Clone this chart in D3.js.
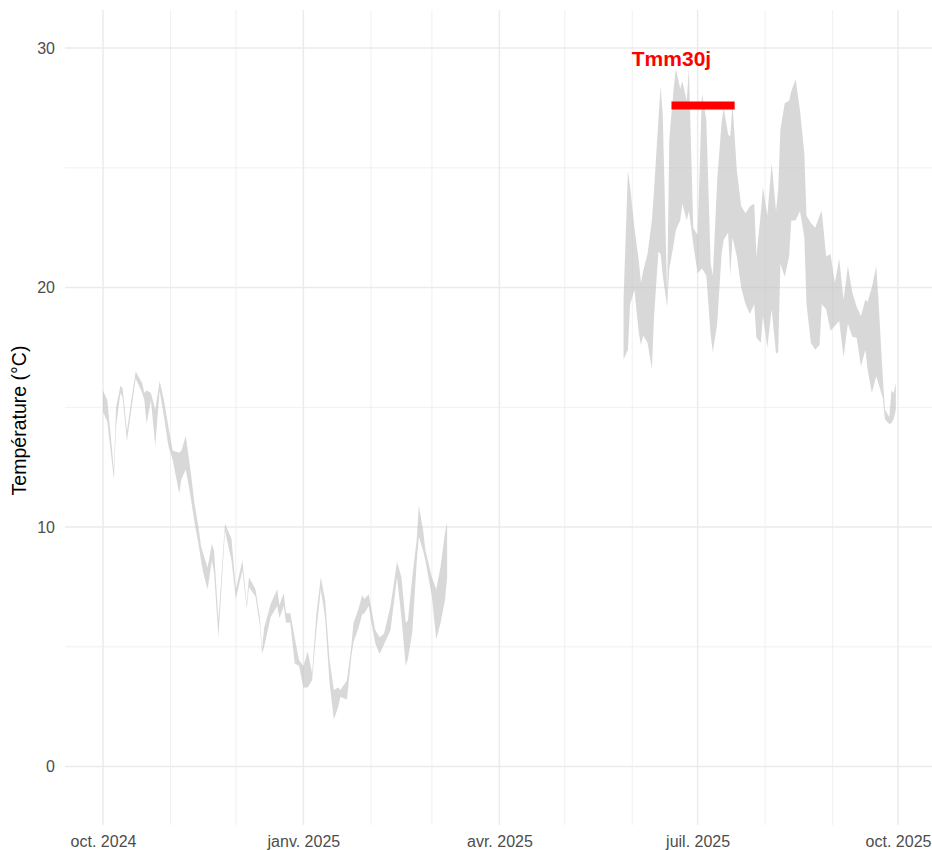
<!DOCTYPE html>
<html>
<head>
<meta charset="utf-8">
<script src="https://cdn.jsdelivr.net/npm/d3@7"></script>
<style>
  body { margin: 0; background: #ffffff; }
  svg { display: block; }
  text { font-family: "Liberation Sans", Arial, Helvetica, sans-serif; }
</style>
</head>
<body>
<svg id="chart" width="932" height="850"></svg>
<script>
// Daily temperature band (upper / lower bound, °C), first recording period
const autumnWinterDates = [
  "2024-10-01","2024-10-03","2024-10-06","2024-10-07","2024-10-09","2024-10-10","2024-10-12","2024-10-14",
  "2024-10-16","2024-10-19","2024-10-20","2024-10-21","2024-10-23","2024-10-25","2024-10-27","2024-10-29",
  "2024-10-31","2024-11-02","2024-11-05","2024-11-06","2024-11-08","2024-11-10","2024-11-12","2024-11-14",
  "2024-11-15","2024-11-16","2024-11-18","2024-11-20","2024-11-21","2024-11-23","2024-11-26","2024-11-29",
  "2024-12-01","2024-12-04","2024-12-06","2024-12-07","2024-12-10","2024-12-12","2024-12-13","2024-12-14",
  "2024-12-17","2024-12-20","2024-12-21","2024-12-23","2024-12-24","2024-12-26","2024-12-28","2024-12-30",
  "2025-01-01","2025-01-03","2025-01-05","2025-01-07","2025-01-09","2025-01-11","2025-01-13","2025-01-15",
  "2025-01-17","2025-01-18","2025-01-21","2025-01-23","2025-01-24","2025-01-26","2025-01-28","2025-01-29",
  "2025-01-31","2025-02-01","2025-02-03","2025-02-05","2025-02-07","2025-02-10","2025-02-13","2025-02-15",
  "2025-02-17","2025-02-18","2025-02-20","2025-02-22","2025-02-23","2025-02-25","2025-02-26","2025-03-01",
  "2025-03-03","2025-03-05","2025-03-07","2025-03-08"
];
const autumnWinterHigh = [
  15.7,15.3,12.4,15.0,15.9,15.8,14.0,15.3,
  16.5,16.0,15.6,15.7,15.6,14.9,16.1,15.3,
  14.2,13.2,13.1,13.2,13.8,12.5,11.0,9.9,
  9.2,8.9,8.3,9.3,9.0,6.1,10.15,9.5,
  7.4,8.6,6.8,7.9,7.4,6.25,4.9,5.8,
  6.8,7.4,6.75,7.25,6.4,6.4,5.4,4.45,
  4.2,4.8,3.9,6.4,7.9,6.95,4.45,3.2,
  3.3,3.2,3.6,5.0,6.0,6.5,7.15,7.0,
  7.2,6.7,5.7,5.4,5.55,6.7,8.55,7.9,
  6.0,6.1,7.9,9.45,10.9,9.85,9.05,7.9,
  7.4,8.35,9.75,10.2
];
const autumnWinterLow = [
  14.8,14.4,12.0,14.2,15.6,15.4,13.6,14.9,
  16.2,15.6,15.3,14.3,15.3,13.4,15.7,14.6,
  13.4,12.8,11.4,12.0,12.4,11.4,10.2,9.2,
  8.6,8.1,7.4,8.6,8.1,5.4,9.85,8.6,
  7.0,8.2,6.6,7.5,7.1,5.9,4.7,5.0,
  6.25,6.7,6.2,6.7,6.0,6.0,4.3,4.2,
  3.3,3.3,3.6,5.7,7.4,6.2,3.5,1.95,
  2.5,2.9,2.8,4.6,5.2,5.7,6.35,6.4,
  6.7,6.1,5.15,4.7,5.1,5.7,7.9,6.25,
  4.2,4.5,5.6,8.5,9.6,9.0,8.6,7.1,
  5.3,6.0,6.95,7.9
];

// Second recording period
const summerDates = [
  "2025-05-28","2025-05-30","2025-05-31","2025-06-02","2025-06-04","2025-06-05","2025-06-06","2025-06-08",
  "2025-06-10","2025-06-11","2025-06-13","2025-06-14","2025-06-15","2025-06-17","2025-06-18","2025-06-20",
  "2025-06-21","2025-06-23","2025-06-24","2025-06-26","2025-06-27","2025-06-29","2025-07-01","2025-07-03",
  "2025-07-05","2025-07-07","2025-07-08","2025-07-10","2025-07-12","2025-07-13","2025-07-15","2025-07-16",
  "2025-07-17","2025-07-19","2025-07-21","2025-07-23","2025-07-25","2025-07-27","2025-07-28","2025-07-30",
  "2025-07-31","2025-08-02","2025-08-04","2025-08-06","2025-08-07","2025-08-08","2025-08-10","2025-08-12",
  "2025-08-13","2025-08-15","2025-08-17","2025-08-19","2025-08-20","2025-08-22","2025-08-24","2025-08-26",
  "2025-08-27","2025-08-29","2025-08-31","2025-09-02","2025-09-04","2025-09-06","2025-09-08","2025-09-10",
  "2025-09-12","2025-09-14","2025-09-16","2025-09-17","2025-09-19","2025-09-21","2025-09-22","2025-09-24",
  "2025-09-25","2025-09-27","2025-09-28","2025-09-29","2025-09-30"
];
const summerHigh = [
  19.5,24.9,24.2,22.5,21.1,20.2,20.7,21.4,
  22.8,24.1,27.0,28.4,27.2,19.7,26.2,28.3,
  29.15,28.3,28.6,27.8,29.15,22.5,22.2,28.1,
  27.0,21.0,20.5,24.5,26.9,27.5,26.4,26.3,
  27.7,24.9,23.4,23.1,23.4,23.5,21.3,23.1,
  24.2,23.0,25.2,23.2,24.1,26.6,27.7,27.8,
  28.2,28.7,27.4,25.6,23.0,22.7,22.5,23.0,
  23.2,21.3,21.4,20.2,21.2,19.5,20.9,19.8,
  19.2,18.8,19.5,19.4,20.0,20.9,19.5,16.3,
  14.9,14.6,15.7,15.6,16.0
];
const summerLow = [
  17.0,17.4,19.3,19.9,18.1,17.6,18.0,17.7,
  16.6,18.8,21.5,21.4,20.5,19.2,20.8,21.8,
  22.4,22.8,23.5,22.8,23.2,21.8,20.6,20.8,
  20.5,18.0,17.3,18.5,21.4,22.0,22.3,20.5,
  22.1,21.3,20.0,19.3,18.9,19.3,17.9,17.7,
  18.8,17.5,19.1,17.25,17.3,21.0,20.45,21.3,
  22.8,22.8,23.2,22.1,19.3,17.7,17.4,17.6,
  19.3,19.1,18.2,18.4,18.6,17.1,18.5,17.95,
  17.9,16.7,17.4,16.6,15.6,16.3,16.0,15.4,
  14.5,14.3,14.35,14.5,14.9
];

// 30-day mean of the daily maximum (Tmm30j)
const tmm30Label = "Tmm30j";
const tmm30Start = "2025-06-19";
const tmm30End = "2025-07-18";
const tmm30Value = 27.6;
const tmm30LabelY = 29.55;

// Axes
const yTicks = [0, 10, 20, 30];
const yMinorTicks = [5, 15, 25];
const xTickDates = ["2024-10-01", "2025-01-01", "2025-04-01", "2025-07-01", "2025-10-01"];
const xTickLabels = ["oct. 2024", "janv. 2025", "avr. 2025", "juil. 2025", "oct. 2025"];
const xMinorDates = ["2024-11-01", "2024-12-01", "2025-02-01", "2025-03-01",
                     "2025-05-01", "2025-06-01", "2025-08-01", "2025-09-01"];
const yTitle = "Température (°C)";

const parse = d3.utcParse("%Y-%m-%d");

const panel = { left: 65, right: 932, top: 10, bottom: 825 };

const x = d3.scaleUtc()
  .domain([parse("2024-10-01"), parse("2025-10-01")])
  .range([103, 898]);

const y = d3.scaleLinear()
  .domain([-2.44, 31.59])
  .range([panel.bottom, panel.top]);

const svg = d3.select("#chart");

svg.append("defs").append("clipPath").attr("id", "panel-clip")
  .append("rect")
  .attr("x", panel.left).attr("y", panel.top)
  .attr("width", panel.right - panel.left).attr("height", panel.bottom - panel.top);

const grid = svg.append("g").attr("stroke", "#ebebeb").attr("fill", "none");

// minor grid
grid.selectAll("line.ymin").data(yMinorTicks).join("line")
  .attr("x1", panel.left).attr("x2", panel.right)
  .attr("y1", d => y(d)).attr("y2", d => y(d))
  .attr("stroke-width", 0.75);
grid.selectAll("line.xmin").data(xMinorDates.map(parse)).join("line")
  .attr("y1", panel.top).attr("y2", panel.bottom)
  .attr("x1", d => x(d)).attr("x2", d => x(d))
  .attr("stroke-width", 0.75);

// major grid
grid.selectAll("line.ymaj").data(yTicks).join("line")
  .attr("x1", panel.left).attr("x2", panel.right)
  .attr("y1", d => y(d)).attr("y2", d => y(d))
  .attr("stroke-width", 1.5);
grid.selectAll("line.xmaj").data(xTickDates.map(parse)).join("line")
  .attr("y1", panel.top).attr("y2", panel.bottom)
  .attr("x1", d => x(d)).attr("x2", d => x(d))
  .attr("stroke-width", 1.5);

// temperature band
function rows(dates, high, low) {
  return dates.map((d, i) => ({ date: parse(d), high: high[i], low: low[i] }));
}

const band = d3.area()
  .x(d => x(d.date))
  .y0(d => y(d.low))
  .y1(d => y(d.high));

const plot = svg.append("g").attr("clip-path", "url(#panel-clip)");

[rows(autumnWinterDates, autumnWinterHigh, autumnWinterLow),
 rows(summerDates, summerHigh, summerLow)].forEach(seg => {
  plot.append("path")
    .datum(seg)
    .attr("d", band)
    .attr("fill", "#bebebe")
    .attr("fill-opacity", 0.6);
});

// Tmm30j segment and label
plot.append("line")
  .attr("x1", x(parse(tmm30Start)))
  .attr("x2", x(parse(tmm30End)))
  .attr("y1", y(tmm30Value))
  .attr("y2", y(tmm30Value))
  .attr("stroke", "#ff0000")
  .attr("stroke-width", 8);

plot.append("text")
  .attr("x", x(parse(tmm30Start)))
  .attr("y", y(tmm30LabelY))
  .attr("text-anchor", "middle")
  .attr("dominant-baseline", "central")
  .attr("font-size", 21)
  .attr("font-weight", "bold")
  .attr("fill", "#ff0000")
  .text(tmm30Label);

// axes
const xAxis = d3.axisBottom(x)
  .tickValues(xTickDates.map(parse))
  .tickFormat((d, i) => xTickLabels[i])
  .tickSize(0)
  .tickPadding(0);

svg.append("g")
  .attr("transform", `translate(0, 836)`)
  .call(xAxis)
  .call(g => g.select(".domain").remove())
  .call(g => g.selectAll("text")
    .attr("font-family", "'Liberation Sans', Arial, sans-serif")
    .attr("font-size", 16)
    .attr("fill", "#4d4d4d")
    .attr("dy", "0.71em")
    .attr("y", 0));

const yAxis = d3.axisLeft(y)
  .tickValues(yTicks)
  .tickFormat(d3.format("d"))
  .tickSize(0)
  .tickPadding(0);

svg.append("g")
  .attr("transform", `translate(55, 0)`)
  .call(yAxis)
  .call(g => g.select(".domain").remove())
  .call(g => g.selectAll("text")
    .attr("font-family", "'Liberation Sans', Arial, sans-serif")
    .attr("font-size", 16)
    .attr("fill", "#4d4d4d"));

svg.append("text")
  .attr("transform", `translate(19, ${(panel.top + panel.bottom) / 2 + 3}) rotate(-90)`)
  .attr("text-anchor", "middle")
  .attr("dominant-baseline", "central")
  .attr("font-size", 19.5)
  .attr("fill", "#000000")
  .text(yTitle);
</script>
</body>
</html>
